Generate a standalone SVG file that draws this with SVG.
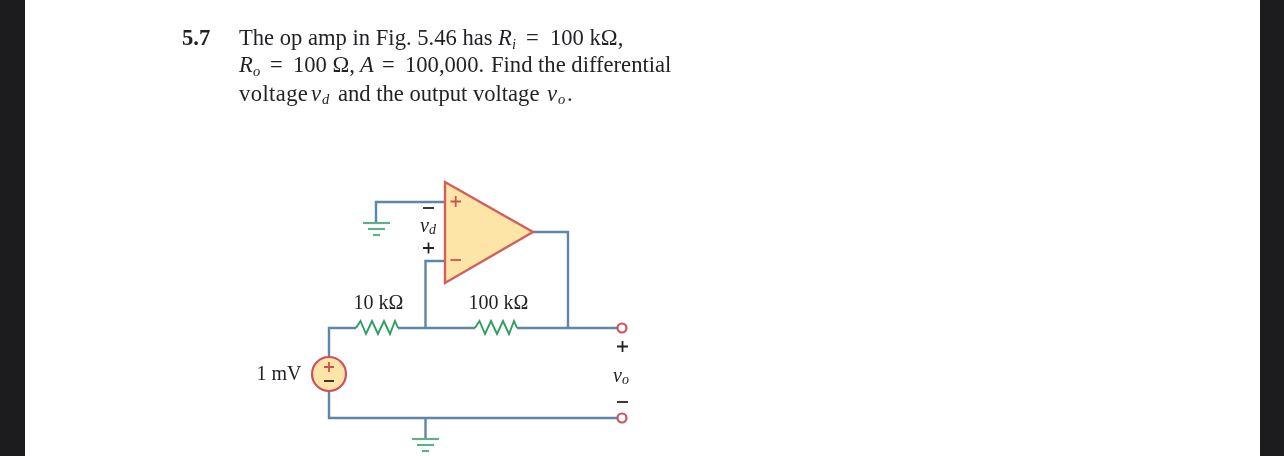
<svg xmlns="http://www.w3.org/2000/svg" width="1284" height="456" viewBox="0 0 1284 456">
<style>
.t{font-family:"Liberation Serif","Times New Roman",serif;fill:#232326}
.p{font-size:22.6px}
.b{font-size:14.500px;font-style:italic}
.l{font-size:20px}
.i{font-style:italic}
.w{fill:none;stroke:#5d86a8;stroke-width:2.400}
.g{fill:none;stroke:#5fb08a;stroke-width:2.200}
.r{fill:none;stroke:#2f9e63;stroke-width:1.900;stroke-linejoin:miter}
.o{fill:#fff;stroke:#d0505f;stroke-width:2.200}
.m{fill:none;stroke-width:1.800}
</style>
<defs>
<filter id="soft" x="-2%" y="-2%" width="104%" height="104%"><feGaussianBlur stdDeviation="0.55"/></filter>
<path id="zig" d="M0 1 L4.500 -6 L10 7 L16 -6 L22 7 L28 -6 L34 7 L39 -6 L42 1" class="r"/>
<g id="gnd"><path d="M-13.500 0H13.500" class="g"/><path d="M-8.500 6H8.500" class="g"/><path d="M-3.500 12H3.500" class="g"/></g>
</defs>
<rect width="1284" height="456" fill="#fff"/>
<rect x="0" y="0" width="25" height="456" fill="#1c1c1e"/>
<rect x="1260" y="0" width="24" height="456" fill="#1c1c1e"/>
<g filter="url(#soft)">
<g id="problem-text">
<text class="t p" x="182" y="45" style="font-weight:700">5.7</text>
<text class="t p" y="45"><tspan x="239">The op amp in Fig. 5.46 has</tspan><tspan class="i" x="498">R</tspan><tspan class="b" x="512" dy="4">i</tspan><tspan x="526" dy="-4">=</tspan><tspan x="550">100 kΩ,</tspan></text>
<text class="t p" y="72"><tspan class="i" x="239">R</tspan><tspan class="b" x="253" dy="4">o</tspan><tspan x="270" dy="-4">=</tspan><tspan x="293">100 Ω,</tspan><tspan class="i" x="360">A</tspan><tspan x="382">=</tspan><tspan x="405">100,000.</tspan><tspan x="491">Find the differential</tspan></text>
<text class="t p" y="101"><tspan x="239" letter-spacing="0.4">voltage</tspan><tspan class="i" x="311">v</tspan><tspan class="b" x="322" dy="3">d</tspan><tspan x="338" dy="-3">and the output voltage</tspan><tspan class="i" x="547">v</tspan><tspan class="b" x="558" dy="3">o</tspan><tspan x="567" dy="-3">.</tspan></text>
</g>
<g id="connectors">
<path class="w" d="M445 202H376V223"/>
<path class="w" d="M533 232H568V328"/>
<path class="w" d="M445 261H425.500V328"/>
<path class="w" d="M329 357V328H356"/>
<path class="w" d="M398 328H475"/>
<path class="w" d="M517 328H617"/>
<path class="w" d="M329 391V418H617"/>
<path class="w" d="M425.500 418V439"/>
</g>
<g id="opamp">
<polygon points="445,182 533,232 445,283" fill="#fde5a8" stroke="#d0605a" stroke-width="2.400"/>
<path class="m" stroke="#d0504f" d="M450.500 201.500H461M455.700 196V207"/>
<path class="m" stroke="#d0504f" d="M450.500 260H461"/>
</g>
<g id="vd-label">
<path class="m" stroke="#232326" d="M423 208H434"/>
<text class="t i" x="428" y="232" font-size="20" text-anchor="middle">v<tspan font-size="14" dy="2">d</tspan></text>
<path class="m" stroke="#232326" d="M423 248H434M428.500 242.500V253.500"/>
</g>
<g id="ground-top"><use href="#gnd" x="376.500" y="223"/></g>
<g id="ground-bottom"><use href="#gnd" x="425.500" y="439"/></g>
<g id="r1">
<text class="t l" x="378.500" y="309" text-anchor="middle">10 kΩ</text>
<use href="#zig" x="356" y="327"/>
</g>
<g id="r2">
<text class="t l" x="498.500" y="309" text-anchor="middle">100 kΩ</text>
<use href="#zig" x="475" y="327"/>
</g>
<g id="source">
<text class="t l" x="279" y="380" text-anchor="middle">1 mV</text>
<circle cx="329" cy="374" r="17" fill="#fde5a8" stroke="#d0505f" stroke-width="2.200"/>
<path class="m" stroke="#d0504f" d="M324 367H334M329 362V372"/>
<path class="m" stroke="#232326" d="M324 381H334"/>
</g>
<g id="output-terminals">
<circle class="o" cx="622" cy="328" r="4.500"/>
<circle class="o" cx="622" cy="418" r="4.500"/>
<path class="m" stroke="#232326" d="M617 346.500H628M622.500 341V352"/>
<text class="t i" x="621" y="382" font-size="20" text-anchor="middle">v<tspan font-size="14" dy="2">o</tspan></text>
<path class="m" stroke="#232326" d="M617 402H628"/>
</g>
</g>
</svg>
